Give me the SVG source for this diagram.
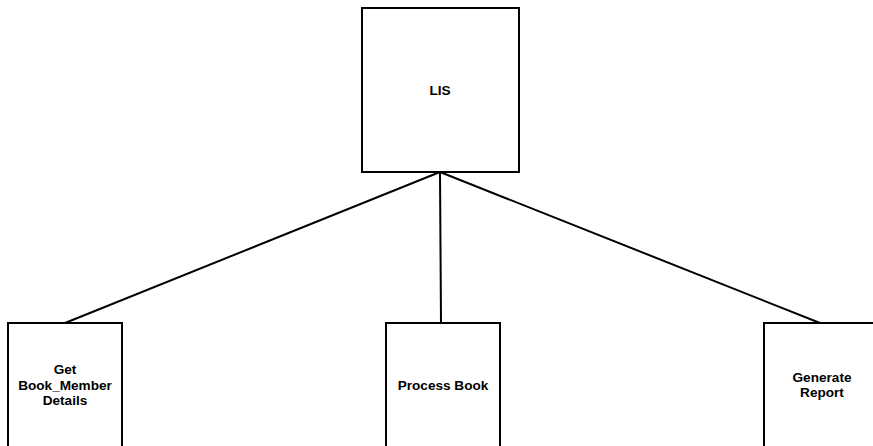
<svg xmlns="http://www.w3.org/2000/svg" width="873" height="446" viewBox="0 0 873 446">
<style>
.box{fill:#fff;stroke:#000;stroke-width:2}
.t{font-family:"Liberation Sans",Arial,sans-serif;font-size:13.6px;font-weight:bold;fill:#000;text-anchor:middle}
.c{stroke:#000;stroke-width:2;fill:none}
</style>
<rect width="873" height="446" fill="#fff"/>
<g id="connectors">
<line class="c" x1="440" y1="172" x2="65" y2="323"/>
<line class="c" x1="440" y1="172" x2="441" y2="323"/>
<line class="c" x1="440" y1="172" x2="820" y2="323"/>
</g>
<g id="lis">
<rect class="box" x="362" y="8" width="157" height="164"/>
<text class="t" x="440" y="95">LIS</text>
</g>
<g id="get-details">
<rect class="box" x="8" y="323" width="114" height="130"/>
<text class="t" x="65" y="374">Get</text>
<text class="t" x="65" y="390">Book_Member</text>
<text class="t" x="65" y="405">Details</text>
</g>
<g id="process-book">
<rect class="box" x="386" y="323" width="114" height="130"/>
<text class="t" x="443" y="390">Process Book</text>
</g>
<g id="generate-report">
<rect class="box" x="764" y="323" width="114" height="130"/>
<text class="t" x="822" y="382">Generate</text>
<text class="t" x="822" y="397">Report</text>
</g>
</svg>
